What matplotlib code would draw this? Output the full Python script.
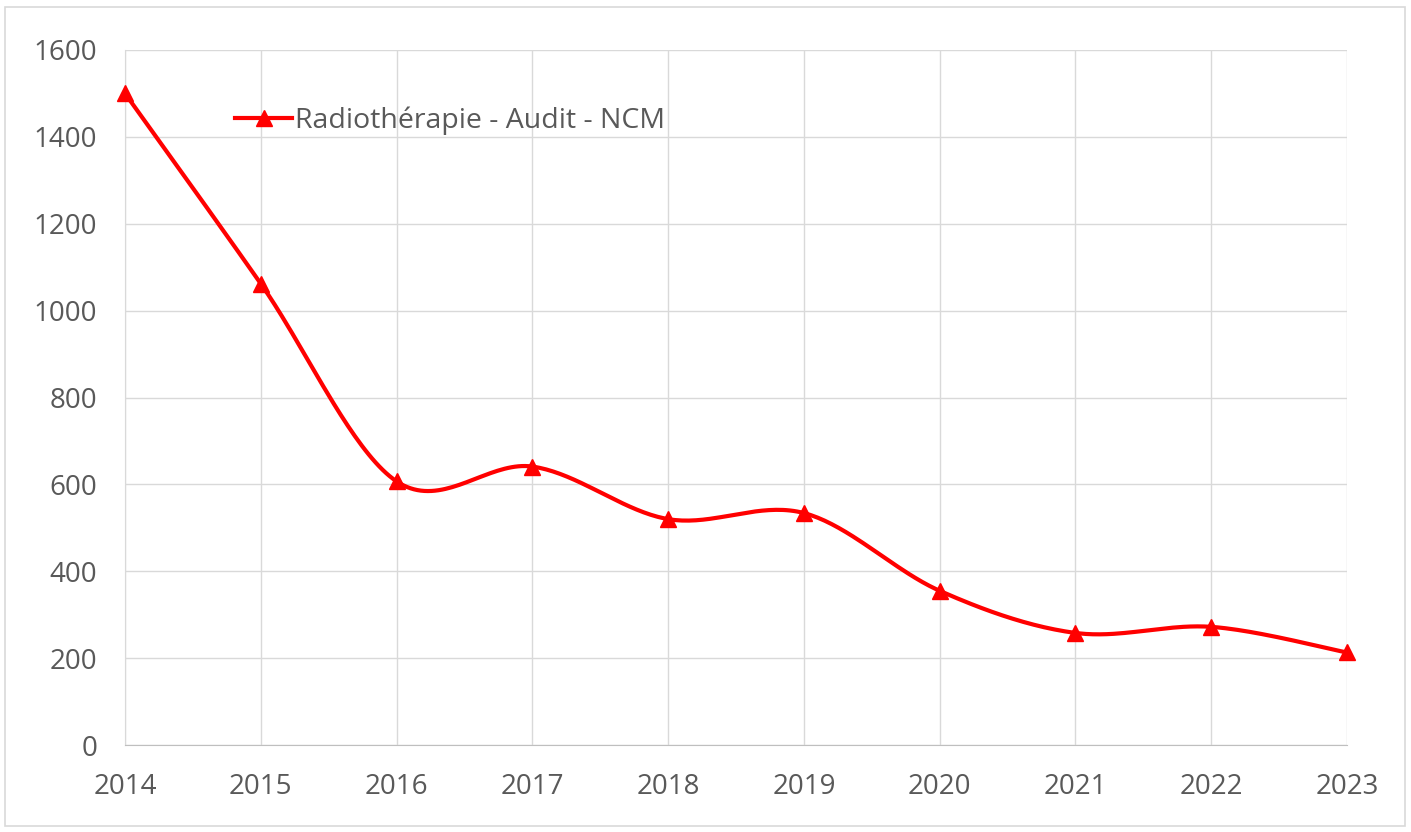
import numpy as np
import matplotlib
matplotlib.use("Agg")
import matplotlib.pyplot as plt
from matplotlib.lines import Line2D
from matplotlib.patches import Rectangle

years = [2014, 2015, 2016, 2017, 2018, 2019, 2020, 2021, 2022, 2023]
values = [1500, 1062, 607, 641, 520, 534, 355, 258, 272, 213]
series_label = "Radiothérapie - Audit - NCM"
y_ticks = [0, 200, 400, 600, 800, 1000, 1200, 1400, 1600]

plt.rcParams['font.family'] = ['Open Sans', 'DejaVu Sans']

def smooth(xs, ys, n=40):
    # Excel-style smoothed line (Catmull-Rom via cubic Bezier)
    xs = np.asarray(xs, float); ys = np.asarray(ys, float)
    px = np.concatenate([[xs[0]], xs, [xs[-1]]])
    py = np.concatenate([[ys[0]], ys, [ys[-1]]])
    ox, oy = [], []
    t = np.linspace(0, 1, n)
    for i in range(1, len(px) - 2):
        p0 = np.array([px[i], py[i]])
        p3 = np.array([px[i + 1], py[i + 1]])
        c1 = p0 + (np.array([px[i + 1], py[i + 1]]) - np.array([px[i - 1], py[i - 1]])) / 6
        c2 = p3 - (np.array([px[i + 2], py[i + 2]]) - np.array([px[i], py[i]])) / 6
        b = ((1 - t) ** 3)[:, None] * p0 + (3 * (1 - t) ** 2 * t)[:, None] * c1 \
            + (3 * (1 - t) * t ** 2)[:, None] * c2 + (t ** 3)[:, None] * p3
        ox.extend(b[:, 0]); oy.extend(b[:, 1])
    return np.array(ox), np.array(oy)

W, H = 1411, 832
fig = plt.figure(figsize=(W / 100, H / 100), dpi=100)
fig.patches.append(Rectangle((5 / W, 1 - 826 / H), 1400 / W, 819 / H, transform=fig.transFigure,
                             fill=False, edgecolor='#d9d9d9', linewidth=1.2))
ax = fig.add_axes([125 / W, 1 - 745 / H, (1347 - 125) / W, (745 - 50) / H])

sx, sy = smooth(years, values)
red = '#ff0000'
ax.plot(sx, sy, color=red, linewidth=3.0, solid_capstyle='round', zorder=3, clip_on=False)
ax.plot(years, values, linestyle='none', marker='^', markersize=12, color=red, zorder=4, clip_on=False)

ax.set_xlim(years[0], years[-1])
ax.set_ylim(0, 1600)
ax.set_xticks(years)
ax.set_xticklabels([str(y) for y in years])
ax.set_yticks(y_ticks)
ax.grid(True, color='#d9d9d9', linewidth=1)
ax.set_axisbelow(True)
for s in ['top', 'right']:
    ax.spines[s].set_visible(False)
ax.spines['left'].set_color('#d9d9d9')
ax.spines['bottom'].set_color('#bfbfbf')
ax.tick_params(axis='both', length=0, labelsize=20, labelcolor='#595959')
ax.tick_params(axis='x', pad=20)
ax.tick_params(axis='y', pad=20)

handle = Line2D([], [], color=red, linewidth=3.0, marker='^', markersize=12)
leg = ax.legend([handle], [series_label], loc='upper left', bbox_to_anchor=(99 / 1222, 1 - 45 / 695),
                frameon=False, fontsize=20.5, handlelength=2.0, handletextpad=0.08, borderaxespad=0)
for t in leg.get_texts():
    t.set_color('#595959')

fig.savefig('out.png', dpi=100)
